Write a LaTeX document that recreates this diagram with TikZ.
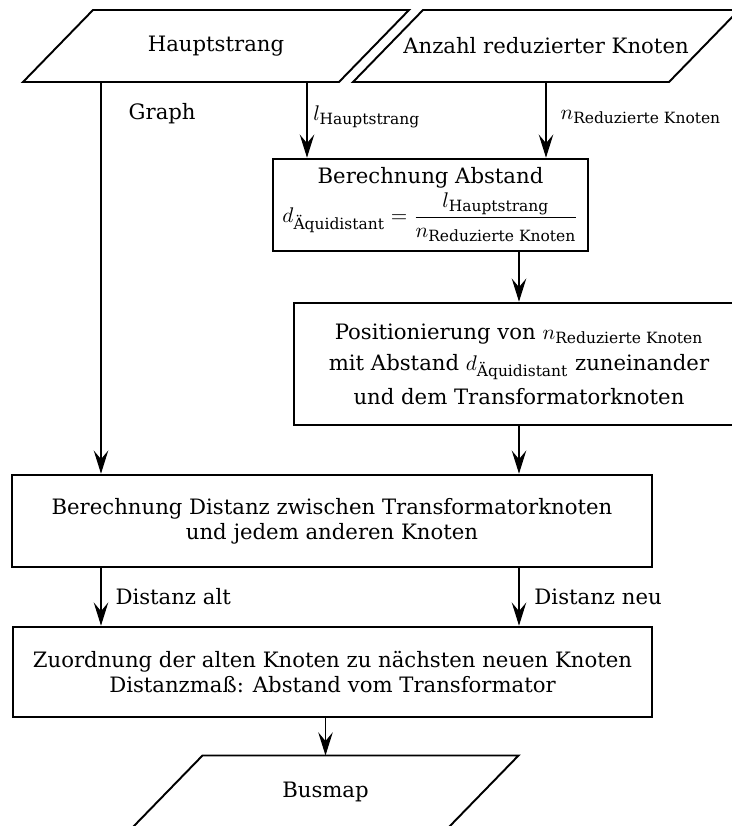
\documentclass[tikz,border=0pt]{standalone}
\usepackage{amsmath}
\usepackage{fontspec}
\setmainfont{DejaVu Serif}
\usetikzlibrary{arrows.meta, positioning}
\tikzset{
	pfeil/.style={-{Stealth[length=12pt,width=7.5pt,inset=4.5pt]}, line width=0.6pt},
	kasten/.style={draw, line width=1.35pt, align=center, inner sep=0pt},
	beschriftung/.style={anchor=west, inner sep=0pt},
}
% Parallelogramm fuer Ein-/Ausgabe: Name, x, y, Text
\newcommand{\eingabe}[4]{
	\draw[line width=1pt] (#2-193,#3+36) -- (#2-123,#3-36) -- (#2+193,#3-36) -- (#2+123,#3+36) -- cycle;
	\node (#1) at (#2,#3) {#4};
	\coordinate (#1-n) at (#2,#3-36);
	\coordinate (#1-s) at (#2,#3+36);
}

\begin{document}
\begin{tikzpicture}[x=0.5165pt, y=-0.5165pt, font=\fontsize{10.95}{12.9}\selectfont]
	\useasboundingbox (0,0) rectangle (732,826);

	% Eingaben
	\eingabe{haupt}{216}{46}{Hauptstrang}
	\eingabe{anzahl}{546}{46}{Anzahl reduzierter Knoten}

	% Verarbeitung
	\node[kasten, minimum width=162.7pt, minimum height=47.5pt] (abstand) at (430.5,205)
		{Berechnung Abstand\\[1pt]
		$d_{\text{Äquidistant}} = \dfrac{l_{\text{Hauptstrang}}}{n_{\text{Reduzierte Knoten}}}$};
	\node[kasten, minimum width=232.4pt, minimum height=63pt] (pos) at (519,364)
		{Positionierung von $n_{\text{Reduzierte Knoten}}$\\[3pt]
		mit Abstand $d_{\text{Äquidistant}}$\ zuneinander\\[3pt]
		und dem Transformatorknoten};
	\node[kasten, minimum width=330.6pt, minimum height=47.5pt] (dist) at (332,521)
		{Berechnung Distanz zwischen Transformatorknoten\\
		und jedem anderen Knoten};
	\node[kasten, minimum width=330pt, minimum height=46.5pt] (zuord) at (332.5,672)
		{Zuordnung der alten Knoten zu nächsten neuen Knoten\\
		Distanzmaß: Abstand vom Transformator};

	% Ausgabe
	\eingabe{busmap}{325.5}{791.5}{Busmap}

	% Spalten der Pfeile
	\coordinate (spalteA) at (101,0);
	\coordinate (spalteB) at (307,0);

	\draw[pfeil] (haupt-s -| spalteA) -- node[beschriftung, pos=0.08, xshift=14pt] {Graph} (dist.north -| spalteA);
	\draw[pfeil] (haupt-s -| spalteB) -- node[beschriftung, pos=0.46, xshift=3pt] {$l_{\text{Hauptstrang}}$} (abstand.north -| spalteB);
	\draw[pfeil] (anzahl-s) -- node[beschriftung, pos=0.46, xshift=7.2pt] {$n_{\text{Reduzierte Knoten}}$} (abstand.north -| anzahl-s);
	\draw[pfeil] (abstand.south -| pos.north) -- (pos.north);
	\draw[pfeil] (pos.south) -- (dist.north -| pos.south);
	\draw[pfeil] (dist.south -| spalteA) -- node[beschriftung, pos=0.5, xshift=7.2pt] {Distanz alt} (zuord.north -| spalteA);
	\draw[pfeil] (dist.south -| pos.south) -- node[beschriftung, pos=0.5, xshift=7.7pt] {Distanz neu} (zuord.north -| pos.south);
	\draw[pfeil] (zuord.south -| busmap-n) -- (busmap-n);
\end{tikzpicture}
\end{document}
